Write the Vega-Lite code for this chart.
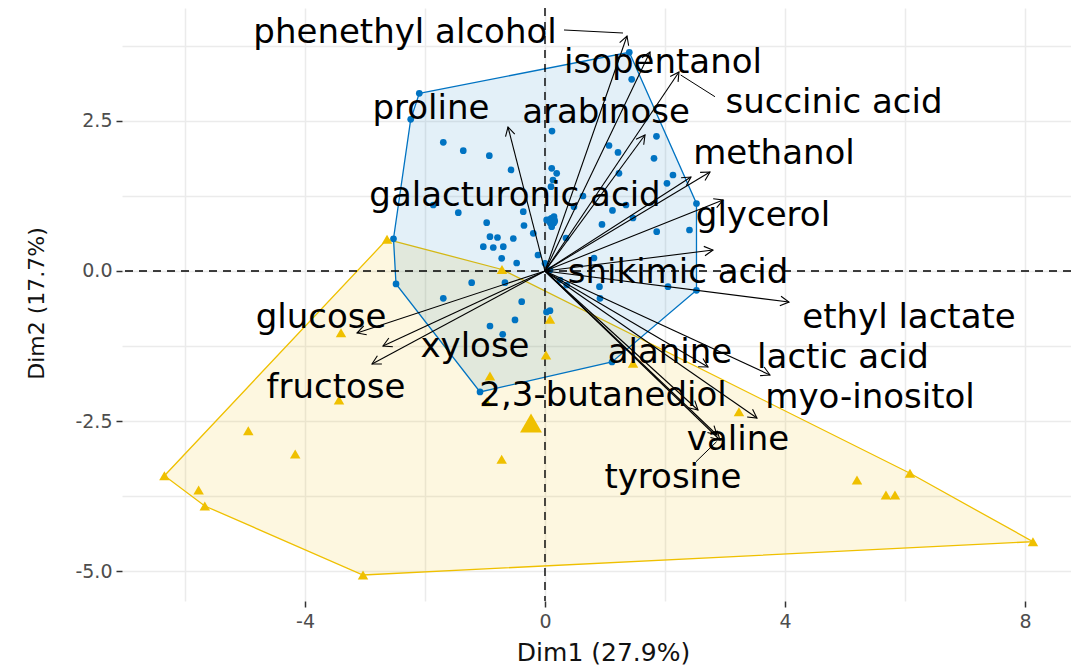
{
  "$schema": "https://vega.github.io/schema/vega-lite/v6.json",
  "width": 949,
  "height": 593,
  "autosize": {"type": "none"},
  "padding": {"left": 122, "top": 8, "right": 0, "bottom": 66},
  "background": "white",
  "config": {"view": {"stroke": null}},
  "datasets": {
    "blue": [
      {"x": -2.095, "y": 2.957}, {"x": -2.238, "y": 2.524}, {"x": -1.695, "y": 2.141}, {"x": -1.362, "y": 2.002},
      {"x": -0.928, "y": 1.918}, {"x": -0.567, "y": 1.681}, {"x": 0.117, "y": 2.329}, {"x": 0.112, "y": 1.709},
      {"x": 0.195, "y": 1.626}, {"x": 0.133, "y": 1.514}, {"x": 0.1, "y": 1.403}, {"x": -1.862, "y": 1.098},
      {"x": -1.445, "y": 0.97}, {"x": -0.972, "y": 0.804}, {"x": -0.362, "y": 0.987}, {"x": -0.35, "y": 0.757},
      {"x": -0.195, "y": 0.627}, {"x": 0.028, "y": 0.849}, {"x": 0.15, "y": 0.903}, {"x": 0.112, "y": 0.737},
      {"x": -0.917, "y": 0.571}, {"x": -0.792, "y": 0.557}, {"x": -0.528, "y": 0.541}, {"x": -1.028, "y": 0.404},
      {"x": -0.862, "y": 0.391}, {"x": -0.695, "y": 0.404}, {"x": -0.722, "y": 0.211}, {"x": -0.472, "y": 0.133},
      {"x": 0.0, "y": 0.128}, {"x": -2.525, "y": 0.536}, {"x": 1.405, "y": 3.639}, {"x": 1.445, "y": 3.19},
      {"x": 1.858, "y": 2.241}, {"x": 1.067, "y": 2.088}, {"x": 1.217, "y": 1.972}, {"x": 1.817, "y": 1.875},
      {"x": 1.233, "y": 1.626}, {"x": 2.133, "y": 1.597}, {"x": 2.033, "y": 1.459}, {"x": 2.525, "y": 1.123},
      {"x": 0.483, "y": 1.07}, {"x": 1.125, "y": 1.007}, {"x": 1.35, "y": 1.098}, {"x": 1.467, "y": 0.882},
      {"x": 0.95, "y": 0.774}, {"x": 1.862, "y": 0.654}, {"x": 2.408, "y": 0.682}, {"x": 0.908, "y": -0.261},
      {"x": 2.05, "y": -0.261}, {"x": 2.525, "y": -0.321}, {"x": 0.917, "y": -0.454}, {"x": 0.025, "y": -0.682},
      {"x": -2.483, "y": -0.216}, {"x": -1.222, "y": -0.195}, {"x": -0.667, "y": -0.195}, {"x": -1.695, "y": -0.454},
      {"x": -0.388, "y": -0.511}, {"x": -0.5, "y": -0.815}, {"x": 0.083, "y": -0.661}, {"x": -0.917, "y": -0.915},
      {"x": -0.705, "y": -1.053}, {"x": 0.362, "y": -0.233}, {"x": -1.083, "y": -2.013}, {"x": 1.117, "y": -1.514},
      {"x": 0.083, "y": 0.017}, {"x": 0.25, "y": -0.15}, {"x": -0.117, "y": 0.266}, {"x": 0.633, "y": 1.248},
      {"x": 0.35, "y": 0.549}, {"x": 0.817, "y": 0.216}
    ],
    "yellow": [
      {"x": -2.633, "y": 0.527}, {"x": -0.717, "y": 0.025}, {"x": 0.083, "y": -0.804}, {"x": 0.017, "y": -1.398},
      {"x": -0.917, "y": -1.747}, {"x": 1.467, "y": -1.536}, {"x": -0.975, "y": -2.175}, {"x": -0.722, "y": -3.133},
      {"x": -3.4, "y": -1.027}, {"x": -3.433, "y": -2.146}, {"x": -4.945, "y": -2.657}, {"x": -4.163, "y": -3.045},
      {"x": -6.343, "y": -3.406}, {"x": -5.773, "y": -3.644}, {"x": -5.67, "y": -3.91}, {"x": -3.033, "y": -5.058},
      {"x": 3.233, "y": -2.341}, {"x": 5.2, "y": -3.478}, {"x": 6.083, "y": -3.366}, {"x": 5.683, "y": -3.727},
      {"x": 5.833, "y": -3.727}, {"x": 8.133, "y": -4.504}
    ],
    "meanB": [{"x": 0.117, "y": 0.832}],
    "meanY": [{"x": -0.233, "y": -2.529}],
    "origin": [{"x": 0, "y": 0}],
    "hullB": [
      {"i": 0, "x": -2.095, "y": 2.957}, {"i": 1, "x": 1.405, "y": 3.639}, {"i": 2, "x": 2.525, "y": 1.123},
      {"i": 3, "x": 2.525, "y": -0.321}, {"i": 4, "x": 1.117, "y": -1.514}, {"i": 5, "x": -1.083, "y": -2.013},
      {"i": 6, "x": -2.483, "y": -0.216}, {"i": 7, "x": -2.525, "y": 0.536}, {"i": 8, "x": -2.238, "y": 2.524}
    ],
    "hullY": [
      {"i": 0, "x": -2.633, "y": 0.527}, {"i": 1, "x": -0.717, "y": 0.025}, {"i": 2, "x": 6.083, "y": -3.366},
      {"i": 3, "x": 8.133, "y": -4.504}, {"i": 4, "x": -3.033, "y": -5.058}, {"i": 5, "x": -5.67, "y": -3.91},
      {"i": 6, "x": -6.343, "y": -3.406}
    ],
    "vars": [
      {"name": "proline", "x0": 0, "y0": 0, "x": -0.617, "y": 2.396, "lx": -1.9, "ly": 2.696},
      {"name": "phenethyl alcohol", "x0": 0, "y0": 0, "x": 1.367, "y": 3.91, "lx": -2.333, "ly": 3.96},
      {"name": "isopentanol", "x0": 0, "y0": 0, "x": 1.75, "y": 3.644, "lx": 1.967, "ly": 3.461},
      {"name": "succinic acid", "x0": 0, "y0": 0, "x": 2.233, "y": 3.311, "lx": 4.817, "ly": 2.787},
      {"name": "arabinose", "x0": 0, "y0": 0, "x": 1.667, "y": 2.263, "lx": 1.017, "ly": 2.629},
      {"name": "galacturonic acid", "x0": 0, "y0": 0, "x": 2.433, "y": 1.564, "lx": -0.5, "ly": 1.248},
      {"name": "methanol", "x0": 0, "y0": 0, "x": 2.75, "y": 1.647, "lx": 3.817, "ly": 1.947},
      {"name": "glycerol", "x0": 0, "y0": 0, "x": 2.967, "y": 1.181, "lx": 3.633, "ly": 0.923},
      {"name": "shikimic acid", "x0": 0, "y0": 0, "x": 2.8, "y": 0.349, "lx": 2.217, "ly": -0.033},
      {"name": "ethyl lactate", "x0": 0, "y0": 0, "x": 4.067, "y": -0.516, "lx": 6.067, "ly": -0.782},
      {"name": "alanine", "x0": 0, "y0": 0, "x": 2.717, "y": -1.597, "lx": 2.083, "ly": -1.364},
      {"name": "lactic acid", "x0": 0, "y0": 0, "x": 3.75, "y": -1.73, "lx": 4.967, "ly": -1.448},
      {"name": "2,3-butanediol", "x0": 0, "y0": 0, "x": 2.55, "y": -2.313, "lx": 0.967, "ly": -2.08},
      {"name": "myo-inositol", "x0": 0, "y0": 0, "x": 3.533, "y": -2.446, "lx": 5.417, "ly": -2.113},
      {"name": "valine", "x0": 0, "y0": 0, "x": 2.867, "y": -2.729, "lx": 3.217, "ly": -2.812},
      {"name": "tyrosine", "x0": 0, "y0": 0, "x": 2.917, "y": -2.812, "lx": 2.133, "ly": -3.444},
      {"name": "glucose", "x0": 0, "y0": 0, "x": -3.133, "y": -1.032, "lx": -3.733, "ly": -0.782},
      {"name": "xylose", "x0": 0, "y0": 0, "x": -2.7, "y": -1.248, "lx": -1.167, "ly": -1.265},
      {"name": "fructose", "x0": 0, "y0": 0, "x": -2.883, "y": -1.547, "lx": -3.483, "ly": -1.947}
    ],
    "links": [
      {"x": 0.317, "y": 4.01, "x2": 1.3, "y2": 3.96},
      {"x": 2.833, "y": 2.9, "x2": 2.262, "y2": 3.261},
      {"x": 2.517, "y": -3.173, "x2": 2.86, "y2": -2.84}
    ]
  },
  "layer": [
    {
      "data": {"name": "hullY"},
      "mark": {"type": "line", "interpolate": "linear-closed", "stroke": "#EFC000", "strokeWidth": 1.3, "fill": "#EFC000", "fillOpacity": 0.12},
      "encoding": {
        "x": {
          "field": "x", "type": "quantitative",
          "scale": {"domain": [-7.05, 8.767], "nice": false, "zero": false},
          "axis": {
            "values": [-6, -4, -2, 0, 2, 4, 6, 8],
            "labelExpr": "datum.value % 4 == 0 ? (datum.value < 0 ? '-' + format(-datum.value, 'd') : format(datum.value, 'd')) : ''",
            "domain": false,
            "grid": true, "gridColor": "#EBEBEB", "gridWidth": 1.5,
            "ticks": true, "tickSize": 6, "tickWidth": 1.5, "tickColor": "#333333",
            "tickOpacity": {"condition": {"test": "datum.value % 4 != 0", "value": 0}, "value": 1},
            "labelFont": "DejaVu Sans", "labelFontSize": 19, "labelColor": "#4D4D4D", "labelPadding": 5,
            "title": "Dim1 (27.9%)", "titleFont": "DejaVu Sans", "titleFontSize": 25, "titleFontWeight": "normal",
            "titleColor": "#111111", "titleX": 481, "titleY": 59, "titleBaseline": "alphabetic"
          }
        },
        "y": {
          "field": "y", "type": "quantitative",
          "scale": {"domain": [-5.491, 4.376], "nice": false, "zero": false},
          "axis": {
            "values": [-5, -3.75, -2.5, -1.25, 0, 1.25, 2.5, 3.75],
            "labelExpr": "datum.value % 2.5 == 0 ? (datum.value < 0 ? '-' + format(-datum.value, '.1f') : format(datum.value, '.1f')) : ''",
            "domain": false,
            "grid": true, "gridColor": "#EBEBEB", "gridWidth": 1.5,
            "ticks": true, "tickSize": 6, "tickWidth": 1.5, "tickColor": "#333333",
            "tickOpacity": {"condition": {"test": "datum.value % 2.5 != 0", "value": 0}, "value": 1},
            "labelFont": "DejaVu Sans", "labelFontSize": 19, "labelColor": "#4D4D4D", "labelPadding": 4,
            "title": "Dim2 (17.7%)", "titleFont": "DejaVu Sans", "titleFontSize": 22, "titleFontWeight": "normal",
            "titleColor": "#111111", "titleX": -79, "titleY": 295, "titleBaseline": "alphabetic", "titleAngle": 270
          }
        },
        "order": {"field": "i", "type": "quantitative"}
      }
    },
    {
      "data": {"name": "hullB"},
      "mark": {"type": "line", "interpolate": "linear-closed", "stroke": "#0073C2", "strokeWidth": 1.3, "fill": "#0073C2", "fillOpacity": 0.11},
      "encoding": {
        "x": {"field": "x", "type": "quantitative"},
        "y": {"field": "y", "type": "quantitative"},
        "order": {"field": "i", "type": "quantitative"}
      }
    },
    {
      "data": {"name": "origin"},
      "mark": {"type": "rule", "color": "black", "strokeWidth": 1.4, "strokeDash": [8, 6]},
      "encoding": {"x": {"field": "x", "type": "quantitative"}}
    },
    {
      "data": {"name": "origin"},
      "mark": {"type": "rule", "color": "black", "strokeWidth": 1.4, "strokeDash": [8, 6]},
      "encoding": {"y": {"field": "y", "type": "quantitative"}}
    },
    {
      "data": {"name": "blue"},
      "mark": {"type": "circle", "color": "#0073C2", "opacity": 1, "size": 45},
      "encoding": {
        "x": {"field": "x", "type": "quantitative"},
        "y": {"field": "y", "type": "quantitative"}
      }
    },
    {
      "data": {"name": "meanB"},
      "mark": {"type": "circle", "color": "#0073C2", "opacity": 1, "size": 150},
      "encoding": {
        "x": {"field": "x", "type": "quantitative"},
        "y": {"field": "y", "type": "quantitative"}
      }
    },
    {
      "data": {"name": "yellow"},
      "mark": {"type": "point", "shape": "triangle-up", "filled": true, "color": "#EFC000", "opacity": 1, "size": 110},
      "encoding": {
        "x": {"field": "x", "type": "quantitative"},
        "y": {"field": "y", "type": "quantitative"}
      }
    },
    {
      "data": {"name": "meanY"},
      "mark": {"type": "point", "shape": "triangle-up", "filled": true, "color": "#EFC000", "opacity": 1, "size": 480},
      "encoding": {
        "x": {"field": "x", "type": "quantitative"},
        "y": {"field": "y", "type": "quantitative"}
      }
    },
    {
      "data": {"name": "vars"},
      "mark": {"type": "rule", "color": "black", "strokeWidth": 1.1},
      "encoding": {
        "x": {"field": "x0", "type": "quantitative"},
        "y": {"field": "y0", "type": "quantitative"},
        "x2": {"field": "x"},
        "y2": {"field": "y"}
      }
    },
    {
      "data": {"name": "vars"},
      "transform": [{"calculate": "atan2(datum.x, datum.y) * 180 / PI", "as": "ang"}],
      "mark": {"type": "point", "shape": "M-0.55,1L0,0L0.55,1", "filled": false, "color": "black", "strokeWidth": 1.1, "opacity": 1, "size": 300},
      "encoding": {
        "x": {"field": "x", "type": "quantitative"},
        "y": {"field": "y", "type": "quantitative"},
        "angle": {"field": "ang", "type": "quantitative", "scale": null}
      }
    },
    {
      "data": {"name": "links"},
      "mark": {"type": "rule", "color": "black", "strokeWidth": 1.0},
      "encoding": {
        "x": {"field": "x", "type": "quantitative"},
        "y": {"field": "y", "type": "quantitative"},
        "x2": {"field": "x2"},
        "y2": {"field": "y2"}
      }
    },
    {
      "data": {"name": "vars"},
      "mark": {"type": "text", "font": "DejaVu Sans", "fontSize": 34, "color": "#000000", "align": "center", "baseline": "middle"},
      "encoding": {
        "x": {"field": "lx", "type": "quantitative"},
        "y": {"field": "ly", "type": "quantitative"},
        "text": {"field": "name"}
      }
    }
  ]
}
